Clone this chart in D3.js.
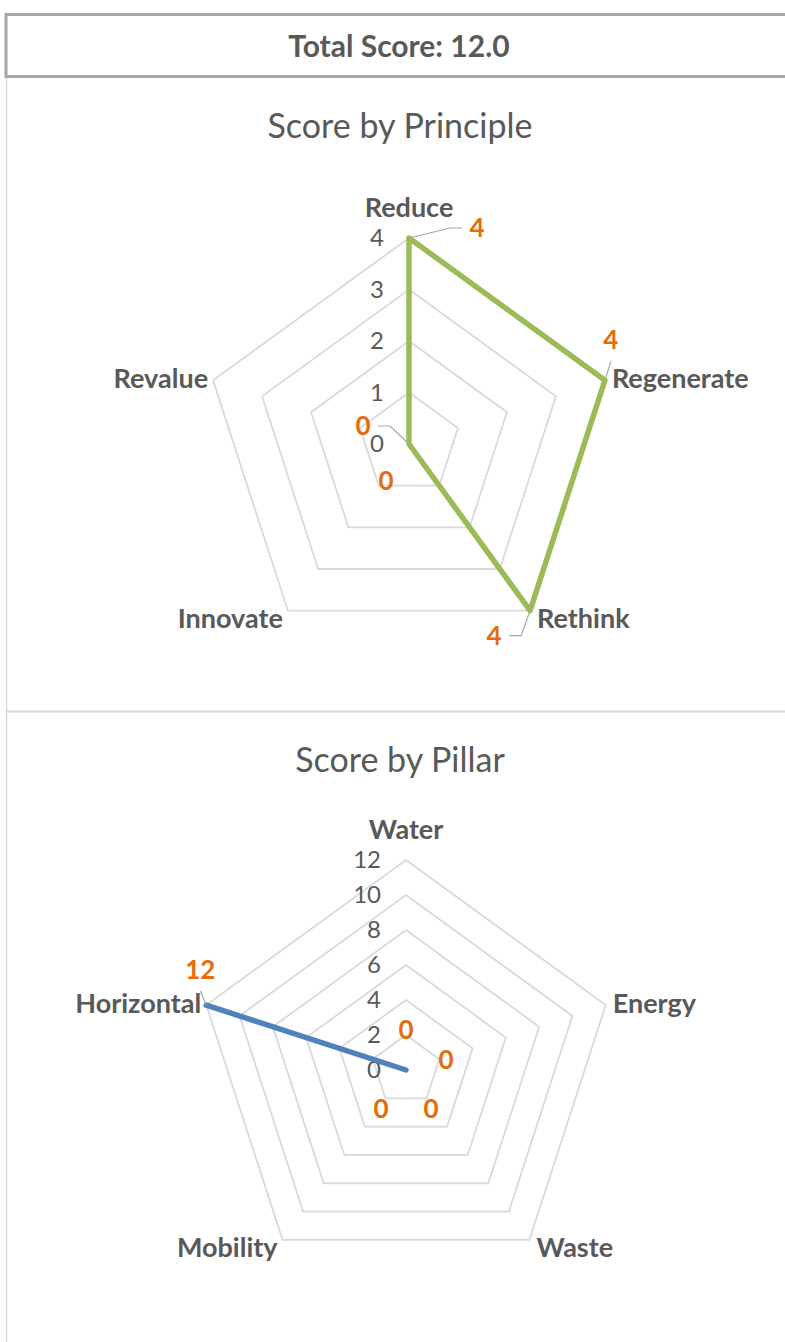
<!DOCTYPE html>
<html>
<head>
<meta charset="utf-8">
<script src="https://cdn.jsdelivr.net/npm/d3@7"></script>
<style>
  body { margin: 0; background: #fff; }
  text { font-family: Lato, "Open Sans", sans-serif; fill: #595959; }
</style>
</head>
<body>
<div id="viz"></div>
<script>
// data
const principles = ["Reduce", "Regenerate", "Rethink", "Innovate", "Revalue"];
const principleScores = [4, 4, 4, 0, 0];
const principleTicks = [0, 1, 2, 3, 4];

const pillars = ["Water", "Energy", "Waste", "Mobility", "Horizontal"];
const pillarScores = [0, 0, 0, 0, 12];
const pillarTicks = [0, 2, 4, 6, 8, 10, 12];

const totalScore = 12.0;

// data label nudges (dx, dy from the point, draw leader?)
const principleNudge = [[68, -10, true], [6, -40, true], [-36, 25, true], [-23, 37, false], [-46, -18, true]];
const pillarNudge = [[0, -40, false], [40, -10, false], [25, 39, false], [-25, 39, false], [-6, -35, true]];

const width = 785;
const height = 1342;
const orange = "#E46C0A";

const svg = d3.select("#viz").append("svg")
    .attr("width", width)
    .attr("height", height);

// header box
svg.append("rect")
    .attr("x", 6).attr("y", 14.5)
    .attr("width", 820).attr("height", 62)
    .attr("fill", "#fff")
    .attr("stroke", "#a6a6a6")
    .attr("stroke-width", 3);

svg.append("text")
    .attr("x", 399).attr("y", 46)
    .attr("dy", "0.35em")
    .attr("text-anchor", "middle")
    .style("font-size", "30px")
    .style("font-weight", "bold")
    .text("Total Score: " + totalScore.toFixed(1));

// chart frames
svg.append("line")
    .attr("x1", 6.5).attr("x2", 6.5)
    .attr("y1", 78).attr("y2", height)
    .attr("stroke", "#d9d9d9").attr("stroke-width", 1.5);
svg.append("line")
    .attr("x1", 6).attr("x2", width)
    .attr("y1", 711.5).attr("y2", 711.5)
    .attr("stroke", "#d9d9d9").attr("stroke-width", 2);

function radar(opts) {
    const { title, titleY, cx, cy, radius, cats, values, ticks, color, nudge } = opts;
    const g = svg.append("g");
    const n = cats.length;
    const maxV = d3.max(ticks);

    const r = d3.scaleLinear().domain([0, maxV]).range([0, radius]);
    const angle = d3.scaleLinear().domain([0, n]).range([0, 2 * Math.PI]);
    const pt = (i, v) => [cx + r(v) * Math.sin(angle(i)), cy - r(v) * Math.cos(angle(i))];

    g.append("text")
        .attr("x", 400).attr("y", titleY)
        .attr("dy", "0.35em")
        .attr("text-anchor", "middle")
        .style("font-size", "34px")
        .text(title);

    // grid rings
    const ring = d3.lineRadial()
        .angle((d, i) => angle(i))
        .curve(d3.curveLinearClosed);

    g.selectAll(".ring")
        .data(ticks.filter(t => t > 0))
        .enter()
        .append("path")
        .attr("transform", `translate(${cx},${cy})`)
        .attr("d", t => ring.radius(r(t))(cats.map(() => 0)))
        .attr("fill", "none")
        .attr("stroke", "#d9d9d9")
        .attr("stroke-width", 1.8);

    // tick labels
    g.selectAll(".tick")
        .data(ticks)
        .enter()
        .append("text")
        .attr("x", cx - 25)
        .attr("y", t => cy - r(t))
        .attr("dy", "0.35em")
        .attr("text-anchor", "end")
        .style("font-size", "24px")
        .text(t => t);

    // series line
    const line = d3.lineRadial()
        .angle((d, i) => angle(i))
        .radius(d => r(d))
        .curve(d3.curveLinearClosed);

    g.append("path")
        .attr("transform", `translate(${cx},${cy})`)
        .attr("d", line(values))
        .attr("fill", "none")
        .attr("stroke", color)
        .attr("stroke-width", 5.5)
        .attr("stroke-linejoin", "round")
        .attr("stroke-linecap", "round");

    // category labels
    cats.forEach((c, i) => {
        const [x, y] = pt(i, maxV);
        const s = Math.sin(angle(i));
        const co = Math.cos(angle(i));
        let anchor = "middle", tx = x, ty = y - 30;
        if (Math.abs(s) > 0.1) {
            anchor = s > 0 ? "start" : "end";
            tx = x + (s > 0 ? 7 : -5);
            ty = co > 0 ? y - 2 : y + 8;
        }
        g.append("text")
            .attr("x", tx).attr("y", ty)
            .attr("dy", "0.35em")
            .attr("text-anchor", anchor)
            .style("font-size", "27px")
            .style("font-weight", "bold")
            .text(c);
    });

    // data labels with leaders
    values.forEach((v, i) => {
        const [x, y] = pt(i, v);
        const [dx, dy, leader] = nudge[i];
        const lx = x + dx, ly = y + dy;
        if (leader) {
            let pts;
            if (Math.abs(dx) > Math.abs(dy)) {
                const sx = Math.sign(dx);
                pts = [[x, y], [lx - sx * 27, ly], [lx - sx * 15, ly]];
            } else {
                pts = [[x, y], [lx, ly + 21]];
            }
            g.append("path")
                .attr("d", d3.line()(pts))
                .attr("fill", "none")
                .attr("stroke", "#a6a6a6")
                .attr("stroke-width", 1.2);
        }
        g.append("text")
            .attr("x", lx).attr("y", ly)
            .attr("dy", "0.35em")
            .attr("text-anchor", "middle")
            .style("font-size", "26px")
            .style("font-weight", "bold")
            .style("fill", orange)
            .text(v);
    });
}

radar({
    title: "Score by Principle", titleY: 126,
    cx: 409, cy: 444, radius: 206,
    cats: principles, values: principleScores, ticks: principleTicks,
    color: "#9BBB59", nudge: principleNudge
});

radar({
    title: "Score by Pillar", titleY: 760,
    cx: 406, cy: 1070, radius: 210,
    cats: pillars, values: pillarScores, ticks: pillarTicks,
    color: "#4F81BD", nudge: pillarNudge
});
</script>
</body>
</html>
